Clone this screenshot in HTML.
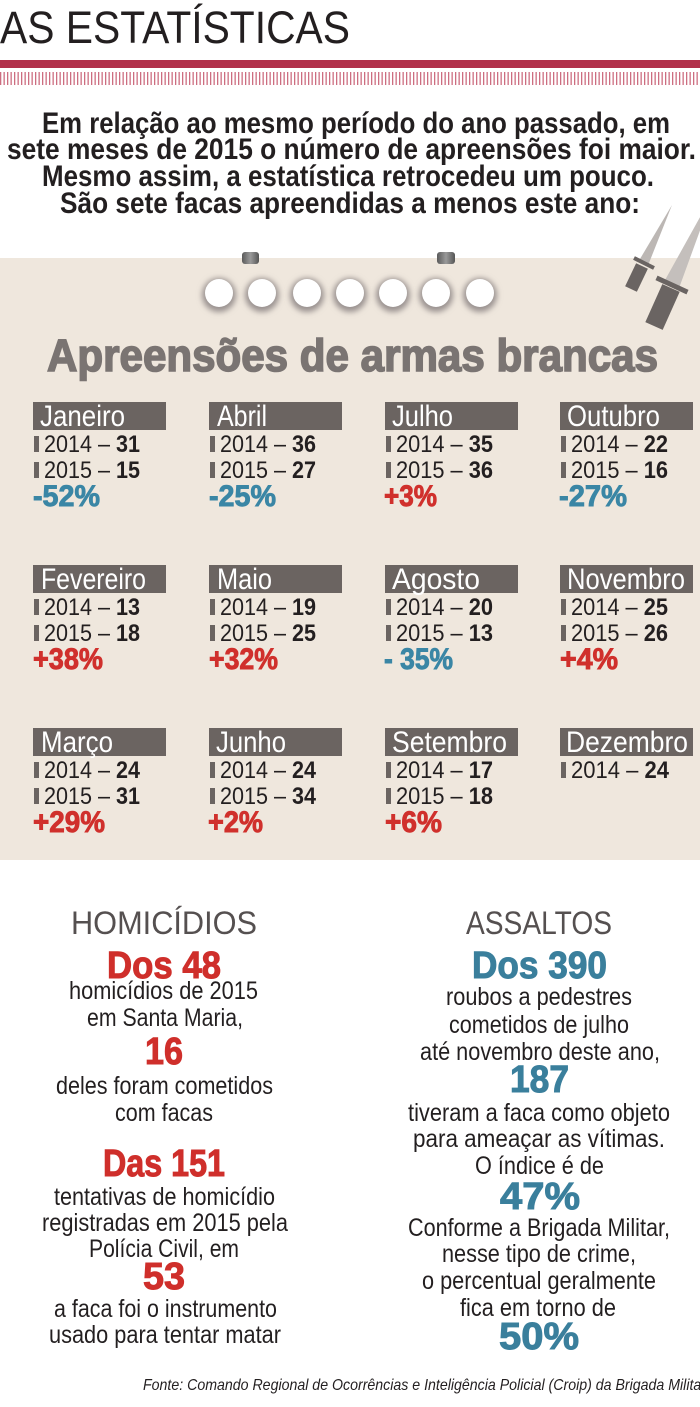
<!DOCTYPE html>
<html><head><meta charset="utf-8"><style>
html,body{margin:0;padding:0;background:#fff;}
svg{display:block;}
text{font-family:"Liberation Sans",sans-serif;}
</style></head><body>
<svg width="700" height="1407" viewBox="0 0 700 1407" xmlns="http://www.w3.org/2000/svg">
<defs>
<pattern id="st" x="0" y="0" width="3.5" height="20" patternUnits="userSpaceOnUse">
<rect x="0" y="0" width="1.3" height="20" fill="#c04a62"/>
</pattern>
<linearGradient id="pin" x1="0" y1="0" x2="1" y2="0">
<stop offset="0" stop-color="#5a5a5a"/><stop offset="0.5" stop-color="#9a9a9a"/><stop offset="1" stop-color="#555"/>
</linearGradient>
<filter id="bl" x="-50%" y="-50%" width="200%" height="200%"><feGaussianBlur stdDeviation="3"/></filter>
</defs>
<rect width="700" height="1407" fill="#fff"/>
<!-- header -->
<text x="0" y="43" font-size="45" fill="#231f20" textLength="350" lengthAdjust="spacingAndGlyphs">AS ESTATÍSTICAS</text>
<rect x="0" y="60" width="700" height="8" fill="#b2304a"/>
<rect x="0" y="72" width="700" height="13" fill="url(#st)" opacity="0.8"/>
<!-- paragraph -->
<g fill="#231f20" font-size="30" font-weight="bold">
<text x="42" y="133" textLength="628" lengthAdjust="spacingAndGlyphs">Em relação ao mesmo período do ano passado, em</text>
<text x="7" y="159" textLength="689" lengthAdjust="spacingAndGlyphs">sete meses de 2015 o número de apreensões foi maior.</text>
<text x="42" y="186" textLength="612" lengthAdjust="spacingAndGlyphs">Mesmo assim, a estatística retrocedeu um pouco.</text>
<text x="60" y="213" textLength="580" lengthAdjust="spacingAndGlyphs">São sete facas apreendidas a menos este ano:</text>
</g>
<!-- beige panel -->
<rect x="0" y="258" width="700" height="602" fill="#efe7dd"/>
<!-- pins -->
<rect x="242" y="252" width="17" height="12" rx="3" fill="url(#pin)"/>
<rect x="437" y="252" width="18" height="12" rx="3" fill="url(#pin)"/>
<!-- circles -->
<g>
<circle cx="219" cy="295" r="17" fill="#9a9290" filter="url(#bl)"/>
<circle cx="262" cy="295" r="17" fill="#9a9290" filter="url(#bl)"/>
<circle cx="307" cy="295" r="17" fill="#9a9290" filter="url(#bl)"/>
<circle cx="350" cy="295" r="17" fill="#9a9290" filter="url(#bl)"/>
<circle cx="393" cy="295" r="17" fill="#9a9290" filter="url(#bl)"/>
<circle cx="436" cy="295" r="17" fill="#9a9290" filter="url(#bl)"/>
<circle cx="480" cy="295" r="17" fill="#9a9290" filter="url(#bl)"/>
</g>
<g fill="#fff">
<circle cx="219" cy="293" r="14"/><circle cx="262" cy="293" r="14"/><circle cx="307" cy="293" r="14"/>
<circle cx="350" cy="293" r="14"/><circle cx="393" cy="293" r="14"/><circle cx="436" cy="293" r="14"/>
<circle cx="480" cy="293" r="14"/>
</g>
<!-- knives -->
<polygon points="672,205 648.5,264.2 639.5,259.8" fill="#bcb7b4"/>
<line x1="634" y1="258" x2="654" y2="268" stroke="#6a6462" stroke-width="4"/>
<line x1="642" y1="266" x2="631" y2="289" stroke="#6a6462" stroke-width="13" stroke-linecap="butt"/>
<polygon points="714,192 679.3,287.4 664.7,280.6" fill="#c4bfbc"/>
<line x1="656.5" y1="277.9" x2="687.5" y2="292.1" stroke="#6a6462" stroke-width="5"/>
<line x1="671" y1="288" x2="654" y2="326" stroke="#6a6462" stroke-width="19" stroke-linecap="butt"/>
<!-- title -->
<text x="47" y="371" font-size="45" font-weight="bold" fill="#7a7472" stroke="#7a7472" stroke-width="1.6" textLength="611" lengthAdjust="spacingAndGlyphs">Apreensões de armas brancas</text>

<!-- month grid -->
<g fill="#6b6461">
<rect x="33" y="402" width="133" height="28"/><rect x="209" y="402" width="133" height="28"/><rect x="385" y="402" width="133" height="28"/><rect x="560" y="402" width="133" height="28"/>
<rect x="33" y="565" width="133" height="28"/><rect x="209" y="565" width="133" height="28"/><rect x="385" y="565" width="133" height="28"/><rect x="560" y="565" width="133" height="28"/>
<rect x="33" y="728" width="133" height="28"/><rect x="209" y="728" width="133" height="28"/><rect x="385" y="728" width="133" height="28"/><rect x="560" y="728" width="133" height="28"/>
</g>
<g fill="#fff" font-size="30">
<text x="40" y="426" textLength="85" lengthAdjust="spacingAndGlyphs">Janeiro</text>
<text x="217" y="426" textLength="50" lengthAdjust="spacingAndGlyphs">Abril</text>
<text x="392" y="426" textLength="61" lengthAdjust="spacingAndGlyphs">Julho</text>
<text x="567" y="426" textLength="93" lengthAdjust="spacingAndGlyphs">Outubro</text>
<text x="41" y="589" textLength="105" lengthAdjust="spacingAndGlyphs">Fevereiro</text>
<text x="217" y="589" textLength="55" lengthAdjust="spacingAndGlyphs">Maio</text>
<text x="392" y="589" textLength="88" lengthAdjust="spacingAndGlyphs">Agosto</text>
<text x="567" y="589" textLength="118" lengthAdjust="spacingAndGlyphs">Novembro</text>
<text x="41" y="752" textLength="72" lengthAdjust="spacingAndGlyphs">Março</text>
<text x="216" y="752" textLength="70" lengthAdjust="spacingAndGlyphs">Junho</text>
<text x="392" y="752" textLength="115" lengthAdjust="spacingAndGlyphs">Setembro</text>
<text x="566" y="752" textLength="122" lengthAdjust="spacingAndGlyphs">Dezembro</text>
</g>
<!-- bars -->
<g fill="#6b6461">
<rect x="34" y="436" width="5" height="16"/><rect x="34" y="462" width="5" height="16"/>
<rect x="210" y="436" width="5" height="16"/><rect x="210" y="462" width="5" height="16"/>
<rect x="386" y="436" width="5" height="16"/><rect x="386" y="462" width="5" height="16"/>
<rect x="561" y="436" width="5" height="16"/><rect x="561" y="462" width="5" height="16"/>
<rect x="34" y="599" width="5" height="16"/><rect x="34" y="625" width="5" height="16"/>
<rect x="210" y="599" width="5" height="16"/><rect x="210" y="625" width="5" height="16"/>
<rect x="386" y="599" width="5" height="16"/><rect x="386" y="625" width="5" height="16"/>
<rect x="561" y="599" width="5" height="16"/><rect x="561" y="625" width="5" height="16"/>
<rect x="34" y="762" width="5" height="16"/><rect x="34" y="788" width="5" height="16"/>
<rect x="210" y="762" width="5" height="16"/><rect x="210" y="788" width="5" height="16"/>
<rect x="386" y="762" width="5" height="16"/><rect x="386" y="788" width="5" height="16"/>
<rect x="561" y="762" width="5" height="16"/>
</g>
<g fill="#231f20" font-size="24">
<text x="44" y="452" textLength="96" lengthAdjust="spacingAndGlyphs">2014 – <tspan font-weight="bold">31</tspan></text>
<text x="44" y="478" textLength="96" lengthAdjust="spacingAndGlyphs">2015 – <tspan font-weight="bold">15</tspan></text>
<text x="220" y="452" textLength="96" lengthAdjust="spacingAndGlyphs">2014 – <tspan font-weight="bold">36</tspan></text>
<text x="220" y="478" textLength="96" lengthAdjust="spacingAndGlyphs">2015 – <tspan font-weight="bold">27</tspan></text>
<text x="396" y="452" textLength="97" lengthAdjust="spacingAndGlyphs">2014 – <tspan font-weight="bold">35</tspan></text>
<text x="396" y="478" textLength="97" lengthAdjust="spacingAndGlyphs">2015 – <tspan font-weight="bold">36</tspan></text>
<text x="571" y="452" textLength="97" lengthAdjust="spacingAndGlyphs">2014 – <tspan font-weight="bold">22</tspan></text>
<text x="571" y="478" textLength="97" lengthAdjust="spacingAndGlyphs">2015 – <tspan font-weight="bold">16</tspan></text>

<text x="44" y="615" textLength="96" lengthAdjust="spacingAndGlyphs">2014 – <tspan font-weight="bold">13</tspan></text>
<text x="44" y="641" textLength="96" lengthAdjust="spacingAndGlyphs">2015 – <tspan font-weight="bold">18</tspan></text>
<text x="220" y="615" textLength="96" lengthAdjust="spacingAndGlyphs">2014 – <tspan font-weight="bold">19</tspan></text>
<text x="220" y="641" textLength="96" lengthAdjust="spacingAndGlyphs">2015 – <tspan font-weight="bold">25</tspan></text>
<text x="396" y="615" textLength="97" lengthAdjust="spacingAndGlyphs">2014 – <tspan font-weight="bold">20</tspan></text>
<text x="396" y="641" textLength="97" lengthAdjust="spacingAndGlyphs">2015 – <tspan font-weight="bold">13</tspan></text>
<text x="571" y="615" textLength="97" lengthAdjust="spacingAndGlyphs">2014 – <tspan font-weight="bold">25</tspan></text>
<text x="571" y="641" textLength="97" lengthAdjust="spacingAndGlyphs">2015 – <tspan font-weight="bold">26</tspan></text>

<text x="44" y="778" textLength="96" lengthAdjust="spacingAndGlyphs">2014 – <tspan font-weight="bold">24</tspan></text>
<text x="44" y="804" textLength="96" lengthAdjust="spacingAndGlyphs">2015 – <tspan font-weight="bold">31</tspan></text>
<text x="220" y="778" textLength="96" lengthAdjust="spacingAndGlyphs">2014 – <tspan font-weight="bold">24</tspan></text>
<text x="220" y="804" textLength="96" lengthAdjust="spacingAndGlyphs">2015 – <tspan font-weight="bold">34</tspan></text>
<text x="396" y="778" textLength="97" lengthAdjust="spacingAndGlyphs">2014 – <tspan font-weight="bold">17</tspan></text>
<text x="396" y="804" textLength="97" lengthAdjust="spacingAndGlyphs">2015 – <tspan font-weight="bold">18</tspan></text>
<text x="571" y="778" textLength="98" lengthAdjust="spacingAndGlyphs">2014 – <tspan font-weight="bold">24</tspan></text>
</g>
<g font-size="30" font-weight="bold" stroke-width="0.9">
<text x="33" y="506" fill="#3a86a5" stroke="#3a86a5" textLength="67" lengthAdjust="spacingAndGlyphs">-52%</text>
<text x="209" y="506" fill="#3a86a5" stroke="#3a86a5" textLength="67" lengthAdjust="spacingAndGlyphs">-25%</text>
<text x="384" y="506" fill="#d0302c" stroke="#d0302c" textLength="53" lengthAdjust="spacingAndGlyphs">+3%</text>
<text x="559" y="506" fill="#3a86a5" stroke="#3a86a5" textLength="68" lengthAdjust="spacingAndGlyphs">-27%</text>
<text x="33" y="669" fill="#d0302c" stroke="#d0302c" textLength="70" lengthAdjust="spacingAndGlyphs">+38%</text>
<text x="209" y="669" fill="#d0302c" stroke="#d0302c" textLength="69" lengthAdjust="spacingAndGlyphs">+32%</text>
<text x="384" y="669" fill="#3a86a5" stroke="#3a86a5" textLength="69" lengthAdjust="spacingAndGlyphs">- 35%</text>
<text x="560" y="669" fill="#d0302c" stroke="#d0302c" textLength="58" lengthAdjust="spacingAndGlyphs">+4%</text>
<text x="33" y="832" fill="#d0302c" stroke="#d0302c" textLength="72" lengthAdjust="spacingAndGlyphs">+29%</text>
<text x="208" y="832" fill="#d0302c" stroke="#d0302c" textLength="55" lengthAdjust="spacingAndGlyphs">+2%</text>
<text x="385" y="832" fill="#d0302c" stroke="#d0302c" textLength="57" lengthAdjust="spacingAndGlyphs">+6%</text>
</g>

<!-- bottom section -->
<g fill="#555050" font-size="32">
<text x="71" y="934" textLength="186" lengthAdjust="spacingAndGlyphs">HOMICÍDIOS</text>
<text x="466" y="934" textLength="146" lengthAdjust="spacingAndGlyphs">ASSALTOS</text>
</g>
<g font-size="38" font-weight="bold" stroke-width="1">
<text x="107" y="978" fill="#cf2f2b" stroke="#cf2f2b" textLength="114" lengthAdjust="spacingAndGlyphs">Dos 48</text>
<text x="472" y="978" fill="#3a7f9c" stroke="#3a7f9c" textLength="135" lengthAdjust="spacingAndGlyphs">Dos 390</text>
<text x="145" y="1064" fill="#cf2f2b" stroke="#cf2f2b" textLength="38" lengthAdjust="spacingAndGlyphs">16</text>
<text x="510" y="1092" fill="#3a7f9c" stroke="#3a7f9c" textLength="59" lengthAdjust="spacingAndGlyphs">187</text>
<text x="103" y="1176" fill="#cf2f2b" stroke="#cf2f2b" textLength="122" lengthAdjust="spacingAndGlyphs">Das 151</text>
<text x="143" y="1289" fill="#cf2f2b" stroke="#cf2f2b" textLength="42" lengthAdjust="spacingAndGlyphs">53</text>
<text x="500" y="1209" fill="#3a7f9c" stroke="#3a7f9c" textLength="80" lengthAdjust="spacingAndGlyphs">47%</text>
<text x="499" y="1349" fill="#3a7f9c" stroke="#3a7f9c" textLength="80" lengthAdjust="spacingAndGlyphs">50%</text>
</g>
<g fill="#231f20" font-size="25">
<text x="69" y="999" textLength="189" lengthAdjust="spacingAndGlyphs">homicídios de 2015</text>
<text x="87" y="1026" textLength="156" lengthAdjust="spacingAndGlyphs">em Santa Maria,</text>
<text x="56" y="1094" textLength="217" lengthAdjust="spacingAndGlyphs">deles foram cometidos</text>
<text x="115" y="1121" textLength="98" lengthAdjust="spacingAndGlyphs">com facas</text>
<text x="54" y="1205" textLength="221" lengthAdjust="spacingAndGlyphs">tentativas de homicídio</text>
<text x="42" y="1231" textLength="246" lengthAdjust="spacingAndGlyphs">registradas em 2015 pela</text>
<text x="89" y="1257" textLength="150" lengthAdjust="spacingAndGlyphs">Polícia Civil, em</text>
<text x="54" y="1317" textLength="223" lengthAdjust="spacingAndGlyphs">a faca foi o instrumento</text>
<text x="49" y="1343" textLength="232" lengthAdjust="spacingAndGlyphs">usado para tentar matar</text>

<text x="446" y="1005" textLength="186" lengthAdjust="spacingAndGlyphs">roubos a pedestres</text>
<text x="449" y="1033" textLength="180" lengthAdjust="spacingAndGlyphs">cometidos de julho</text>
<text x="420" y="1060" textLength="240" lengthAdjust="spacingAndGlyphs">até novembro deste ano,</text>
<text x="408" y="1121" textLength="262" lengthAdjust="spacingAndGlyphs">tiveram a faca como objeto</text>
<text x="413" y="1147" textLength="252" lengthAdjust="spacingAndGlyphs">para ameaçar as vítimas.</text>
<text x="475" y="1174" textLength="129" lengthAdjust="spacingAndGlyphs">O índice é de</text>
<text x="408" y="1236" textLength="262" lengthAdjust="spacingAndGlyphs">Conforme a Brigada Militar,</text>
<text x="442" y="1262" textLength="194" lengthAdjust="spacingAndGlyphs">nesse tipo de crime,</text>
<text x="422" y="1289" textLength="234" lengthAdjust="spacingAndGlyphs">o percentual geralmente</text>
<text x="460" y="1316" textLength="156" lengthAdjust="spacingAndGlyphs">fica em torno de</text>
</g>
<text x="143" y="1390" font-size="16" font-style="italic" fill="#231f20" textLength="563" lengthAdjust="spacingAndGlyphs">Fonte: Comando Regional de Ocorrências e Inteligência Policial (Croip) da Brigada Militar</text>
</svg>
</body></html>
